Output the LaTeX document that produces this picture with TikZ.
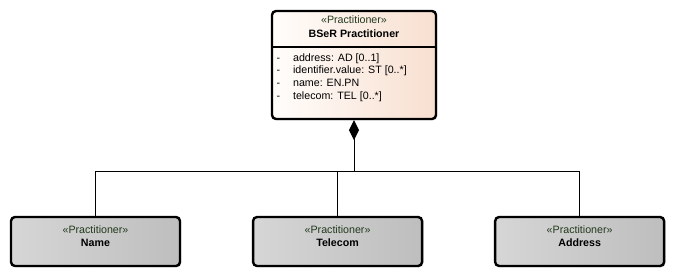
\documentclass[tikz,border=0pt]{standalone}
\usepackage{fontspec}
\setmainfont{Liberation Sans}
\usepackage{xcolor}
\definecolor{stereo}{HTML}{22391C}
\definecolor{peach}{HTML}{F8DFD0}
\definecolor{cream}{HTML}{FFFDFB}
\definecolor{greylt}{HTML}{D6D6D6}
\definecolor{greydk}{HTML}{BEBEBE}
\usepackage{tikz}
\usetikzlibrary{arrows.meta,positioning,calc,shadows}
\tikzset{
  x=0.75pt,y=0.75pt,
  font=\fontsize{8}{9.5}\selectfont,
  cls/.style={draw=black,line width=1.8pt,rounded corners=3pt,inner sep=0pt,
              drop shadow={shadow xshift=1pt,shadow yshift=-1pt,opacity=.25}},
  pracbox/.style={cls,left color=cream,right color=peach,
                  minimum width=123pt,minimum height=81pt},
  partbox/.style={cls,left color=greylt,right color=greydk,
                  minimum width=126.75pt,minimum height=36.75pt,align=center},
  txt/.style={inner sep=0pt},
  divider/.style={line width=1.5pt},
  link/.style={line width=0.75pt},
  compo/.style={link,-{Diamond[length=15pt,width=7.5pt]}},
}
\newcommand{\stname}{{\color{stereo}«Practitioner»}}
\newcommand{\partlbl}[1]{\begin{tabular}{@{}c@{}}\stname\\\textbf{#1}\\[6pt]\end{tabular}}
\newcommand{\attr}[1]{\makebox[12.4pt][l]{-}#1}

\begin{document}
\begin{tikzpicture}[node distance=53pt]
  \useasboundingbox (0,0) rectangle (674,279);

  % parent class
  \node[pracbox] (prac) at (354,214) {};
  \node[txt,anchor=north] (prac-hd) at ($(prac.north)+(0,-3.7)$)
    {\fontsize{8}{10.5}\selectfont\begin{tabular}{@{}c@{}}\stname\\\textbf{BSeR Practitioner}\end{tabular}};
  \draw[divider] ($(prac.north west)+(0,-37)$) -- ($(prac.north east)+(0,-37)$);
  \node[txt,anchor=north west] (prac-attr) at ($(prac.north west)+(5.5,-42.1)$)
    {\begin{tabular}{@{}l@{}}\attr{address: AD [0..1]}\\\attr{identifier.value: ST [0..*]}\\
     \attr{name: EN.PN}\\\attr{telecom: TEL [0..*]}\end{tabular}};

  % parts
  \node[partbox] (name) at (95.5,37.5) {\partlbl{Name}};
  \node[partbox,right=of name] (tel) {\partlbl{Telecom}};
  \node[partbox,right=of tel] (addr) {\partlbl{Address}};

  \coordinate (hub) at ($(prac.south)+(0,-51)$);
  \draw[link] (name.north) |- (hub);
  \draw[link] (addr.north) |- (hub);
  \draw[link] (tel.north) -- (tel.north |- hub);
  \draw[compo] (hub) -- (prac.south);
\end{tikzpicture}
\end{document}
